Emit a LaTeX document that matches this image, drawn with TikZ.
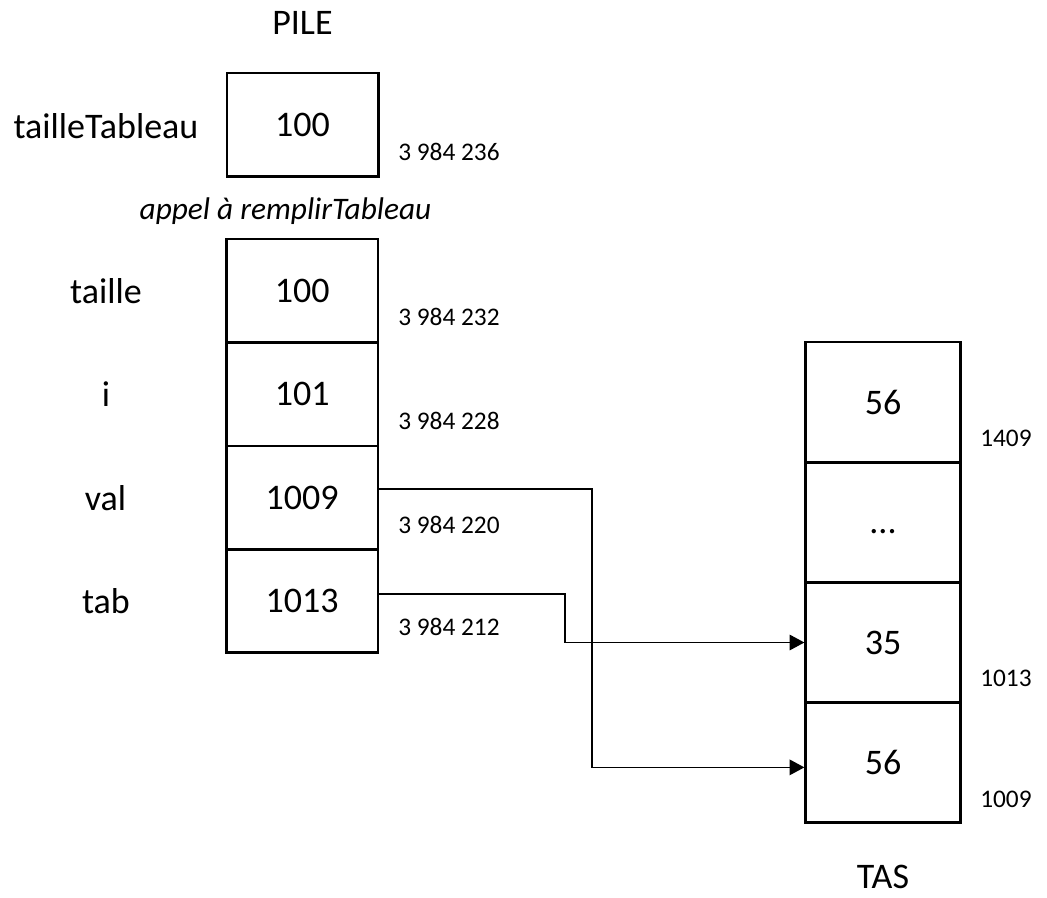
\documentclass[tikz,border=0pt]{standalone}
\usepackage{fontspec}
\setmainfont{Carlito}
\usetikzlibrary{arrows.meta}
\begin{document}
\begin{tikzpicture}[x=0.75pt,y=-0.75pt,
  cell/.style={draw,line width=1.9pt,minimum width=113.6pt,minimum height=77.6pt,inner sep=0pt,font=\fontsize{27}{32}\selectfont},
  heapcell/.style={cell,minimum width=116pt,minimum height=90pt},
  lbl/.style={anchor=base,font=\fontsize{27}{32}\selectfont,inner sep=0pt},
  addr/.style={anchor=base west,font=\fontsize{19}{23}\selectfont,inner sep=0pt},
  ptr/.style={line width=1.3pt,-{Triangle[length=11pt,width=11.5pt]}}]
\useasboundingbox (0,0) rectangle (1047,897);
% stack
\node[lbl] (pile) at (302.5,34) {PILE};
\node[cell] (tt) at (302.5,124.7) {100};
\node[lbl] (ltt) at (106,138.3) {tailleTableau};
\node[addr] (att) at (398,160) {3 984 236};
\node[lbl,font=\fontsize{23.5}{28}\selectfont\itshape] (appel) at (285.5,219) {appel à remplirTableau};
\node[cell] (c1) at (302.2,290.5) {100};
\node[cell] (c2) at (302.2,394.2) {101};
\node[cell] (c3) at (302.2,497.7) {1009};
\node[cell] (c4) at (302.2,600.8) {1013};
\node[lbl] (l1) at (106,303) {taille};
\node[lbl] (l2) at (106,406.7) {i};
\node[lbl] (l3) at (105.5,510) {val};
\node[lbl] (l4) at (106,613) {tab};
\node[addr] (a1) at (398,325.7) {3 984 232};
\node[addr] (a2) at (398,429) {3 984 228};
\node[addr] (a3) at (398,533.3) {3 984 220};
\node[addr] (a4) at (398,635.7) {3 984 212};
% heap
\node[heapcell] (h1) at (883,402) {56};
\node[heapcell] (h2) at (883,522.3) {\vphantom{0}...};
\node[heapcell] (h3) at (883,642.5) {35};
\node[heapcell] (h4) at (883,762.7) {56};
\node[addr] (b1) at (980,446) {1409};
\node[addr] (b3) at (980,686.7) {1013};
\node[addr] (b4) at (980,807.3) {1009};
\node[lbl] (tas) at (883,888) {TAS};
% pointers
\coordinate (k1) at (592,0);
\coordinate (k2) at (564.7,0);
\draw[ptr] ([yshift=6.5pt]c3.east) -- ([yshift=6.5pt]c3.east -| k1) |- ([yshift=-3.5pt]h4.west);
\draw[ptr] ([yshift=5.1pt]c4.east) -- ([yshift=5.1pt]c4.east -| k2) |- (h3.west);
\end{tikzpicture}
\end{document}
